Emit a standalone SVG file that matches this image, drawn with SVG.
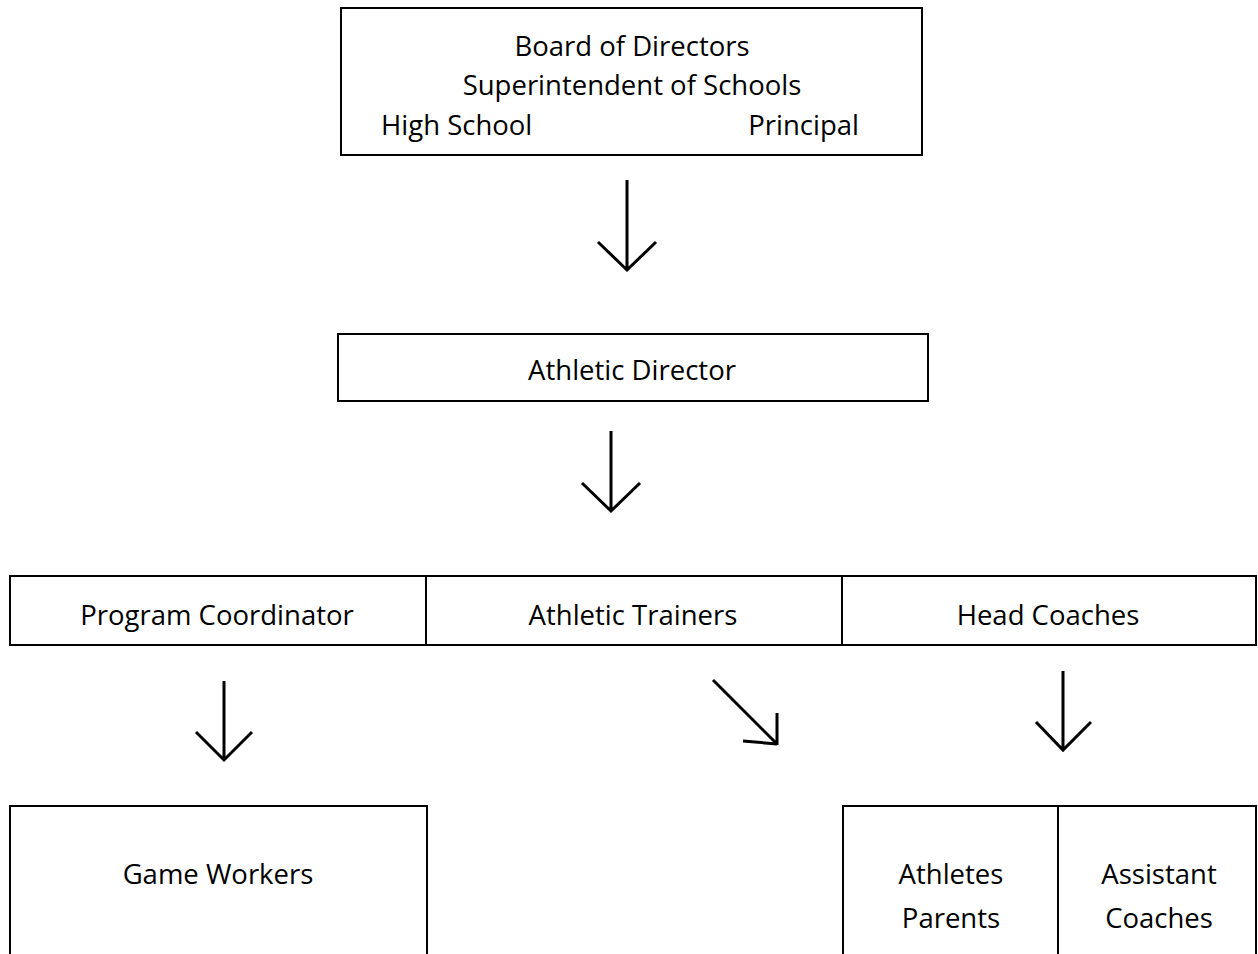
<svg xmlns="http://www.w3.org/2000/svg" width="1258" height="954" viewBox="0 0 1258 954">
<style>
.box{fill:#fff;stroke:#000;stroke-width:2}
.div{stroke:#000;stroke-width:2}
.t{font-family:"Open Sans","Liberation Sans",sans-serif;font-size:27.5px;fill:#000;text-anchor:middle}
.a{fill:none;stroke:#000;stroke-width:3;stroke-linecap:butt}
</style>
<rect width="1258" height="954" fill="#fff"/>
<g id="top">
<rect class="box" x="341" y="8" width="581" height="147"/>
<text class="t" x="632" y="56">Board of Directors</text>
<text class="t" x="632" y="95">Superintendent of Schools</text>
<text class="t" x="381" y="135" style="text-anchor:start">High School</text>
<text class="t" x="859" y="135" style="text-anchor:end">Principal</text>
</g>
<g id="ad">
<rect class="box" x="338" y="334" width="590" height="67"/>
<text class="t" x="632" y="380">Athletic Director</text>
</g>
<g id="row">
<rect class="box" x="10" y="576" width="1246" height="69"/>
<line class="div" x1="426" y1="576" x2="426" y2="645"/>
<line class="div" x1="842" y1="576" x2="842" y2="645"/>
<text class="t" x="217" y="625">Program Coordinator</text>
<text class="t" x="633" y="625">Athletic Trainers</text>
<text class="t" x="1048" y="625">Head Coaches</text>
</g>
<g id="gw">
<rect class="box" x="10" y="806" width="417" height="160"/>
<text class="t" x="218" y="884">Game Workers</text>
</g>
<g id="ap">
<rect class="box" x="843" y="806" width="413" height="160"/>
<line class="div" x1="1058" y1="806" x2="1058" y2="954"/>
<text class="t" x="951" y="884">Athletes</text>
<text class="t" x="951" y="928">Parents</text>
<text class="t" x="1159" y="884">Assistant</text>
<text class="t" x="1159" y="928">Coaches</text>
</g>
<g id="connectors">
<path class="a" d="M627 180V269M598 242L627 270L656 242"/>
<path class="a" d="M611 431V510M582 483L611 511L640 483"/>
<path class="a" d="M224 681V759M196 732L224 760L252 732"/>
<path class="a" d="M713 680L776 743M777 713L777 745M743 741L777 744"/>
<path class="a" d="M1063 671V749M1036 722L1063 750L1091 722"/>
</g>
</svg>
